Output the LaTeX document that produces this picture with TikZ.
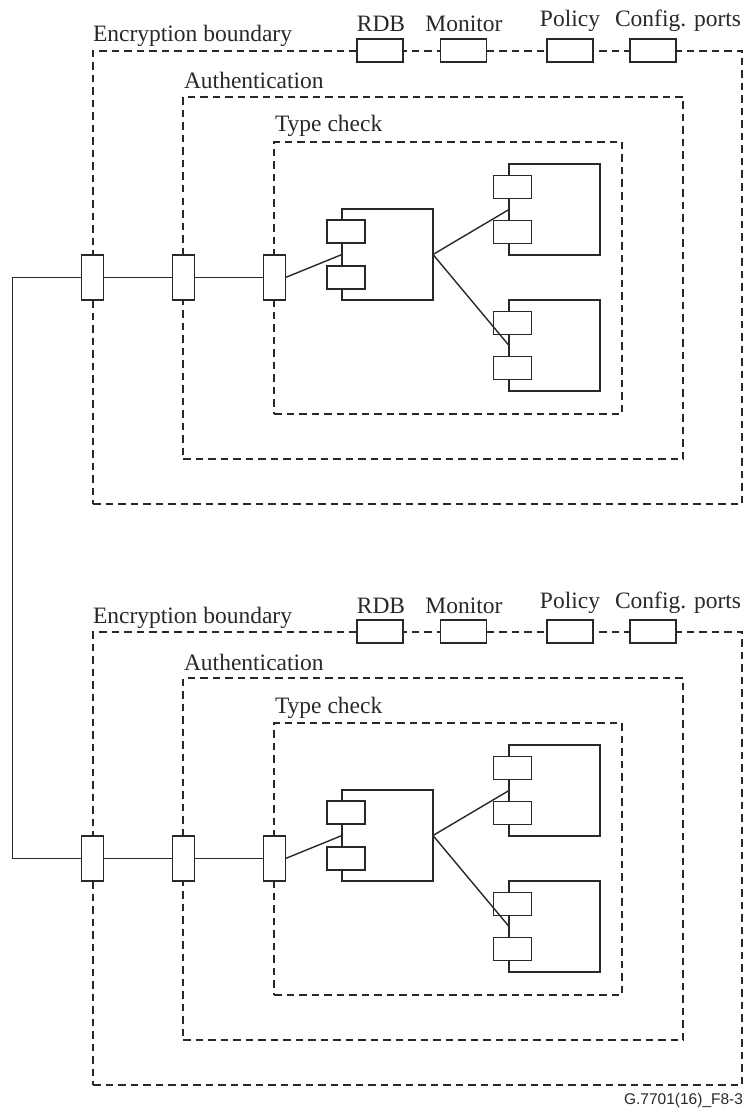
\documentclass[tikz,border=0pt]{standalone}
\usepackage{fontspec}
\setmainfont{Liberation Serif}
\newfontfamily\capfont{Liberation Sans}
\definecolor{ink}{RGB}{40,40,40}
\begin{document}
\begin{tikzpicture}[x=1pt,y=-1pt,
  every node/.style={inner sep=0pt, outer sep=0pt},
  line/.style={draw=ink, line width=1.4pt},
  dbox/.style={draw=ink, line width=1.4pt, dash pattern=on 7.5pt off 5pt, rectangle},
  vport/.style={draw=ink, fill=white, line width=1.4pt, minimum width=22pt, minimum height=45pt},
  hport/.style={draw=ink, fill=white, line width=1.4pt, minimum width=46pt, minimum height=23pt},
  comp/.style={draw=ink, line width=1.4pt, minimum width=91pt, minimum height=91pt},
  tab/.style={draw=ink, fill=white, line width=1.4pt, minimum width=38pt, minimum height=23pt},
  lab/.style={font=\fontsize{23.5}{27}\selectfont, text=ink},
  ]
\path[use as bounding box] (0,0) rectangle (746,1110);
\foreach \m/\dy in {a/0, b/581}{
\begin{scope}[yshift=-\dy pt]
  % dashed boundaries
  \node[dbox, minimum width=649pt, minimum height=453pt] (enc\m) at (417.5,277.5) {};
  \node[dbox, minimum width=500pt, minimum height=362pt] (auth\m) at (433,278) {};
  \node[dbox, minimum width=348pt, minimum height=272pt] (type\m) at (448,278) {};
  % labels
  \node[lab, anchor=base west] (encl\m) at (93,42) {Encryption boundary};
  \node[lab, anchor=base west] (authl\m) at (184,89) {Authentication};
  \node[lab, anchor=base west] (typel\m) at (275,132) {Type check};
  \node[lab, anchor=base] (rdbl\m) at (381,32) {RDB};
  \node[lab, anchor=base] (monl\m) at (464,32) {Monitor};
  \node[lab, anchor=base] (poll\m) at (570,27) {Policy};
  \node[lab, anchor=base] (cfgl\m) at (678,27) {Config. ports};
  % top ports
  \node[hport] (rdb\m) at (380,50.5) {};
  \node[hport] (mon\m) at (463.5,50.5) {};
  \node[hport] (pol\m) at (570,50.5) {};
  \node[hport] (cfg\m) at (653,50.5) {};
  % left ports
  \node[vport] (p\m1) at (92.5,277.5) {};
  \node[vport] (p\m2) at (183.5,277.5) {};
  \node[vport] (p\m3) at (274.5,277.5) {};
  \draw[line] (p\m1.east) -- (p\m2.west);
  \draw[line] (p\m2.east) -- (p\m3.west);
  % components
  \node[comp] (c\m1) at (387.5,254.5) {};
  \node[tab] (c\m1t) at (346,231.5) {};
  \node[tab] (c\m1b) at (346,277.5) {};
  \node[comp] (c\m2) at (554.5,209.5) {};
  \node[tab] (c\m2t) at (512.5,187) {};
  \node[tab] (c\m2b) at (512.5,232) {};
  \node[comp] (c\m3) at (554.5,345.5) {};
  \node[tab] (c\m3t) at (512.5,323) {};
  \node[tab] (c\m3b) at (512.5,368) {};
  % connectors
  \draw[line] (p\m3.east) -- (c\m1.west);
  \draw[line] (c\m1.east) -- (c\m2.west);
  \draw[line] (c\m1.east) -- (c\m3.west);
\end{scope}
}
\coordinate (L) at (12.7,277.5);
\draw[line] (pa1.west) -- (L) |- (pb1.west);
\node[font=\capfont\fontsize{15.5}{18}\selectfont, text=ink, anchor=base east] (fig) at (743,1104) {G.7701(16)\_F8-3};
\end{tikzpicture}
\end{document}
